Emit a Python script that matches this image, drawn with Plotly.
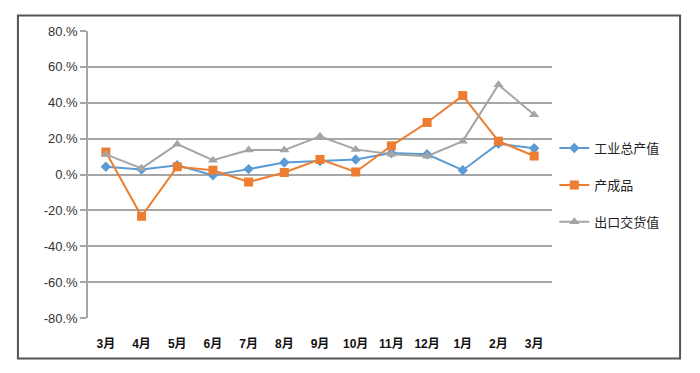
import plotly.graph_objects as go

months = ["3月", "4月", "5月", "6月", "7月", "8月", "9月", "10月", "11月", "12月", "1月", "2月", "3月"]
gross_output = [4.3, 2.8, 5.2, -0.4, 3.0, 6.7, 7.5, 8.4, 12.0, 11.3, 2.4, 17.2, 14.6]
finished_goods = [12.5, -23.3, 4.3, 2.4, -4.2, 1.1, 8.4, 1.4, 16.0, 29.0, 44.0, 18.6, 10.3]
export_value = [11.2, 3.4, 16.9, 8.0, 13.6, 13.6, 21.3, 14.0, 11.3, 10.2, 18.6, 50.0, 33.3]
y_ticks = [-80, -60, -40, -20, 0, 20, 40, 60, 80]
y_tick_text = ["-80.%", "-60.%", "-40.%", "-20.%", "0.%", "20.%", "40.%", "60.%", "80.%"]

x = list(range(len(months)))
font_main = "Liberation Sans, Arial, Noto Sans CJK SC, sans-serif"

fig = go.Figure()
series = [
    ("工业总产值", gross_output, "#5B9BD5", "diamond", 8),
    ("产成品", finished_goods, "#ED7D31", "square", 9),
    ("出口交货值", export_value, "#A5A5A5", "triangle-up", 9),
]
for i, (name, vals, color, sym, size) in enumerate(series):
    fig.add_trace(go.Scatter(
        x=x, y=vals, name=name, mode="lines+markers",
        line=dict(color=color, width=2),
        marker=dict(symbol=sym, size=size, color=color),
        legendgroup=f"g{i}",
    ))

fig.update_layout(
    width=700, height=373,
    margin=dict(l=88, r=148, t=31, b=55),
    paper_bgcolor="white", plot_bgcolor="white",
    showlegend=True,
    legend=dict(
        x=1.005, y=0.463, xanchor="left", yanchor="middle",
        font=dict(family="Noto Sans CJK SC, sans-serif", size=13, color="#222222"),
        tracegroupgap=17, itemwidth=30,
        bgcolor="rgba(0,0,0,0)",
    ),
    xaxis=dict(
        tickmode="array", tickvals=x, ticktext=months,
        range=[-0.5, len(months) - 0.5],
        showgrid=False, zeroline=False, showline=False,
        ticks="outside", ticklen=15, tickcolor="rgba(0,0,0,0)",
        tickfont=dict(family=font_main, size=12, color="#111111", weight="bold"),
        fixedrange=True,
    ),
    yaxis=dict(
        tickmode="array", tickvals=y_ticks, ticktext=y_tick_text,
        range=[-80, 80],
        showgrid=True, gridcolor="#A6A6A6", gridwidth=1.5,
        zeroline=False, showline=True, linecolor="#A6A6A6", linewidth=1.5,
        ticks="outside", ticklen=6, tickcolor="#A6A6A6", tickwidth=1.5,
        tickfont=dict(family=font_main, size=13, color="#333333"),
        fixedrange=True,
    ),
)

# outer frame around chart
fig.add_shape(type="rect", xref="paper", yref="paper",
              x0=-0.151, x1=1.276, y0=-0.141, y1=1.054,
              line=dict(color="#555555", width=2), fillcolor="rgba(0,0,0,0)", layer="above")

fig.write_html("out.html", config={"displayModeBar": False},
               post_script="document.body.style.margin='0';document.body.style.overflow='hidden';")
